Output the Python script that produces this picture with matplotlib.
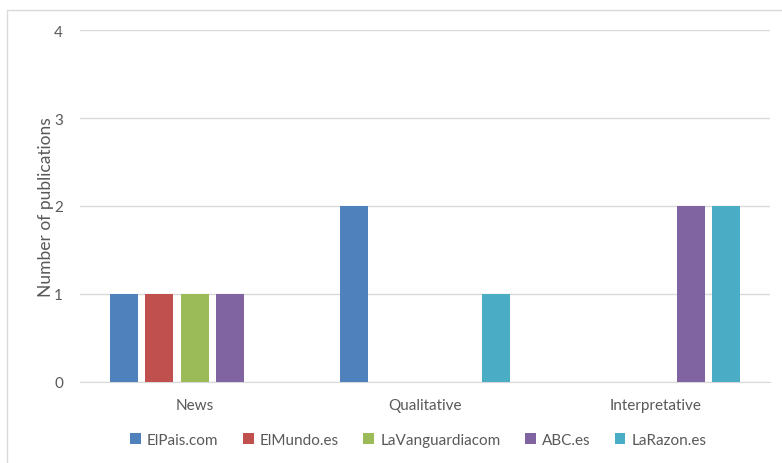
import numpy as np
import matplotlib.pyplot as plt
from matplotlib.patches import Rectangle

# --- Data ---
categories = ["News", "Qualitative", "Interpretative"]
series_names = ["ElPais.com", "ElMundo.es", "LaVanguardiacom", "ABC.es", "LaRazon.es"]
elpais = [1, 2, 0]
elmundo = [1, 0, 0]
lavanguardia = [1, 0, 0]
abc = [1, 0, 2]
larazon = [0, 1, 2]
series_values = [elpais, elmundo, lavanguardia, abc, larazon]
colors = ["#4F81BD", "#C0504D", "#9BBB59", "#8064A2", "#4BACC6"]

plt.rcParams['font.family'] = ['Lato', 'DejaVu Sans']
txt = "#595959"

fig = plt.figure(figsize=(7.82, 4.64), dpi=100)
ax = fig.add_axes([0.102, 0.175, 0.883, 0.758])

x = np.arange(len(categories))
slot = 0.1543
width = 0.122
for i, (name, vals) in enumerate(zip(series_names, series_values)):
    offs = (i - 2) * slot
    ax.bar(x + offs, vals, width=width, color=colors[i], label=name, zorder=3)

ax.set_xlim(-0.5, 2.5)
ax.set_ylim(0, 4)
ax.set_yticks(range(5))
ax.set_xticks(x)
ax.set_xticklabels(categories)
ax.tick_params(axis='both', length=0, labelsize=11, colors=txt)
ax.tick_params(axis='x', pad=12)
ax.tick_params(axis='y', pad=12)
ax.grid(axis='y', color="#D9D9D9", linewidth=1, zorder=0)
for s in ["top", "right", "left"]:
    ax.spines[s].set_visible(False)
ax.spines["bottom"].set_color("#D9D9D9")
ax.set_ylabel("Number of publications", fontsize=12.5, color=txt, labelpad=0)

leg = fig.legend(loc="center", bbox_to_anchor=(0.535, 0.05), ncol=5, frameon=False,
                 fontsize=11, handlelength=0.7, handleheight=0.7, handletextpad=0.4,
                 columnspacing=1.6)
for t in leg.get_texts():
    t.set_color(txt)

# outer chart frame
fig.patches.append(Rectangle((7 / 782, -0.1), 1.2, 1 - 11 / 464 + 0.1,
                             transform=fig.transFigure, fill=False,
                             edgecolor="#D9D9D9", linewidth=1))

fig.savefig("out.png", dpi=100)
